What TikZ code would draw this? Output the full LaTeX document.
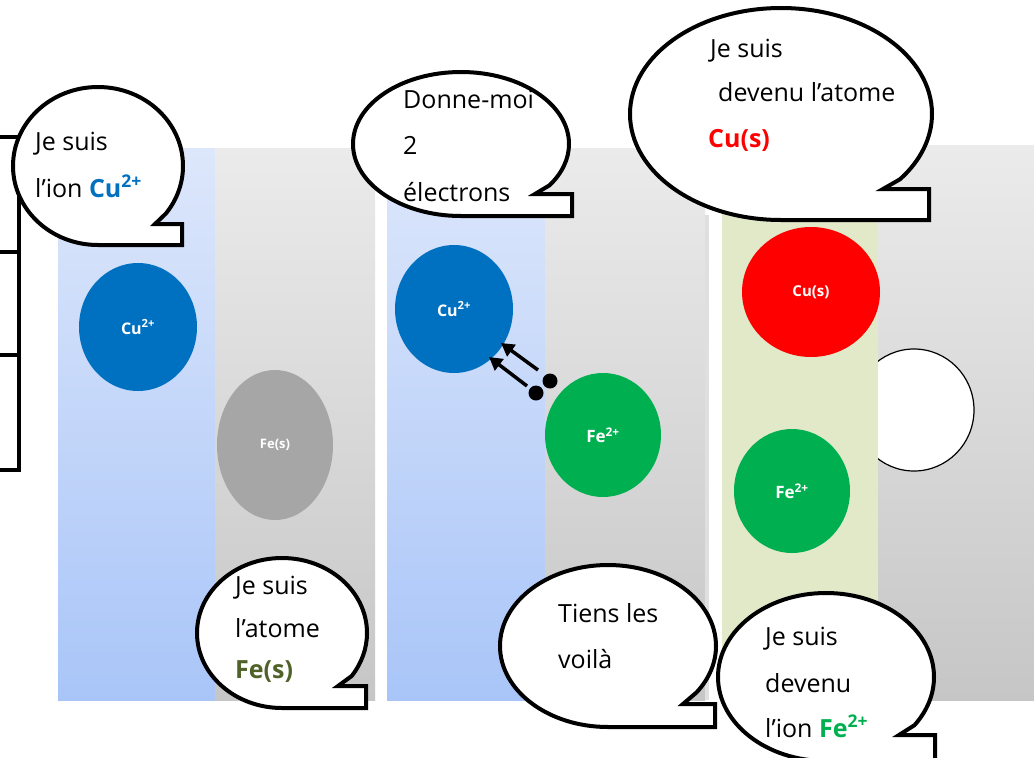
\documentclass[tikz,border=0pt]{standalone}
\usepackage{fontspec}
\setmainfont{Open Sans}
\usetikzlibrary{arrows.meta,shapes.geometric}

\definecolor{cuion}{HTML}{0070C0}
\definecolor{feion}{HTML}{00B050}
\definecolor{cumetal}{HTML}{FF0000}
\definecolor{femetal}{HTML}{A6A6A6}
\definecolor{feolive}{HTML}{4F6228}
\definecolor{bluetop}{HTML}{DDE7FB}
\definecolor{bluebot}{HTML}{A9C5F8}
\definecolor{graytop}{HTML}{EBEBEB}
\definecolor{graybot}{HTML}{C6C6C6}
\definecolor{greencol}{HTML}{E2E9C9}

% speech bubble: ellipse (cx,cy,rx,ry), tail leaving the ellipse at angle #5,
% notch point (#6,#7), tail corner at x=#8
\newcommand{\talkbubble}[8]{%
  \filldraw[bubble] (#1,#2+#4)
    arc[start angle=90, end angle={#5+360}, x radius=#3, y radius=#4]
    -- (#6,#7) -- (#8,#7) -- (#8,#2+#4) -- cycle;}

\tikzset{
  bubble/.style={draw=black, fill=white, line width=4pt, line join=miter},
  say/.style={anchor=base west, inner sep=0pt, font=\fontsize{25}{30}\selectfont},
  particle/.style={ellipse, draw=none, inner sep=0pt, text=white,
    font=\bfseries\fontsize{16}{18}\selectfont},
  electron/.style={circle, fill=black, inner sep=0pt, minimum size=15pt},
  transfer/.style={line width=3.5pt, -{Triangle[length=13pt,width=14pt]}},
  frame/.style={line width=4pt, line cap=rect}
}

\begin{document}
\begin{tikzpicture}[x=1pt,y=-1pt]
\useasboundingbox (0,0) rectangle (1034,758);
\fill[white] (0,0) rectangle (1034,758);

% left frame
\draw[frame] (0,137) -- (19,137) -- (19,470) -- (0,470);
\draw[frame] (0,252) -- (19,252);
\draw[frame] (0,355) -- (19,355);

% first beaker: solution and iron side
\fill[top color=bluetop, bottom color=bluebot] (58,148) rectangle (215,700);
\fill[top color=graytop, bottom color=graybot] (215,148) rectangle (375,700);

% second beaker
\fill[top color=bluetop, bottom color=bluebot] (387,148) rectangle (545,700);
\fill[top color=graytop, bottom color=graybot] (545,148) rectangle (705,700);

% third beaker
\fill[gray!25] (705,215) rectangle (709,700);
\fill[top color=graytop, bottom color=graybot] (878,145) rectangle (1034,700);
\begin{scope}
  \clip (878,300) rectangle (1034,500);
  \filldraw[draw=black, line width=1.2pt, fill=white] (914,410) ellipse[x radius=60, y radius=61];
\end{scope}
\fill[greencol] (722,140) rectangle (878,700);

% particles
\node[particle, fill=cuion, minimum width=118pt, minimum height=128pt] (cu1) at (138,327) {Cu\textsuperscript{2+}};
\node[particle, fill=femetal, minimum width=116pt, minimum height=150pt, font=\bfseries\fontsize{13}{15}\selectfont] (fe1) at (275,445) {Fe(s)};
\node[particle, fill=cuion, minimum width=118pt, minimum height=128pt] (cu2) at (454,309) {Cu\textsuperscript{2+}};
\node[particle, fill=feion, minimum width=116pt, minimum height=124pt, font=\bfseries\fontsize{17}{19}\selectfont] (fe2) at (603,435) {Fe\textsuperscript{2+}};
\node[particle, fill=cumetal, minimum width=138pt, minimum height=130pt, font=\bfseries\fontsize{15}{17}\selectfont] (cu3) at (811,292) {Cu(s)};
\node[particle, fill=feion, minimum width=116pt, minimum height=124pt, font=\bfseries\fontsize{17}{19}\selectfont] (fe3) at (792,491) {Fe\textsuperscript{2+}};

% electrons handed over
\node[electron] (e1) at (550,381) {};
\node[electron] (e2) at (536,393) {};
\coordinate (t1) at (538,370);
\coordinate (h1) at (501,343);
\coordinate (t2) at (527,386);
\coordinate (h2) at (489,357);
\draw[transfer] (t1) -- (h1);
\draw[transfer] (t2) -- (h2);

% speech bubbles
\talkbubble{98}{166}{85}{79}{37}{155}{224}{182}
\node[say] (s1a) at (35,150) {Je suis};
\node[say] (s1b) at (35,197) {l’ion \textcolor{cuion}{\bfseries Cu\textsuperscript{2+}}};

\talkbubble{282}{633}{85}{75}{35}{338}{686}{366}
\node[say] (s2a) at (235,594) {Je suis};
\node[say] (s2b) at (235,637) {l’atome};
\node[say] (s2c) at (235,678) {\textcolor{feolive}{\bfseries Fe(s)}};

\talkbubble{461}{144}{108}{72}{35}{535}{194}{572}
\node[say] (s3a) at (403,108) {Donne-moi};
\node[say] (s3b) at (403,154) {2};
\node[say] (s3c) at (403,201) {électrons};

\talkbubble{781}{114}{151}{106}{38}{883}{189}{929}
\node[say] (s4a) at (710,57) {Je suis};
\node[say] (s4b) at (718,101) {devenu l’atome};
\node[say] (s4c) at (708,147) {\textcolor{cumetal}{\bfseries Cu(s)}};

\talkbubble{608}{646}{108}{81}{35}{683}{704}{715}
\node[say] (s5a) at (558,622) {Tiens les};
\node[say] (s5b) at (558,668) {voilà};

\talkbubble{826}{677}{108}{84}{35}{899}{735}{935}
\node[say] (s6a) at (765,645) {Je suis};
\node[say] (s6b) at (765,692) {devenu};
\node[say] (s6c) at (765,737) {l’ion \textcolor{feion}{\bfseries Fe\textsuperscript{2+}}};
\end{tikzpicture}
\end{document}
